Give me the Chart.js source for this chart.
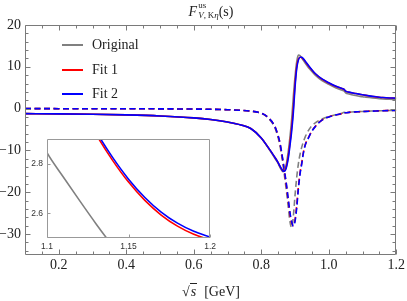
<!DOCTYPE html>
<html>
<head>
<meta charset="utf-8">
<script src="https://cdn.jsdelivr.net/npm/chart.js@4.4.1/dist/chart.umd.min.js"></script>
<style>
  html, body { margin: 0; padding: 0; background: #fff; }
  #wrap { position: relative; width: 407px; height: 301px; font-family: 'Liberation Serif', 'Times New Roman', serif; color: #222; }
  #main { position: absolute; left: 0; top: 0; }
  #inset { position: absolute; left: 20px; top: 130px; }
  #title { position: absolute; left: 25px; width: 372px; top: 0px; text-align: center; font-size: 14px; white-space: nowrap; }
  #title .F { font-style: italic; }
  #title .ss { display: inline-block; vertical-align: -2px; font-size: 9px; line-height: 10px; text-align: left; margin-left: 1px; }
  #title .ss span { display: block; }
  #xlabel { position: absolute; left: 25px; width: 372px; top: 284px; text-align: center; font-size: 14px; white-space: nowrap; }
  #xlabel .ol { border-top: 1px solid #222; font-style: italic; padding: 0 1px; }
  #legend { position: absolute; left: 62px; top: 33px; font-size: 14px; }
  .item { height: 24.5px; display: flex; align-items: center; }
  .swatch { width: 21px; height: 2px; margin-right: 9px; }
</style>
</head>
<body>
<div id="wrap">
  <canvas id="main" width="407" height="301"></canvas>
  <canvas id="inset" width="200" height="125"></canvas>
  <div id="title"><span class="F">F</span><span class="ss"><span>us</span><span><i>V</i>,&#8201;K<i>η</i></span></span>(s)</div>
  <div id="xlabel"><span>√<span class="ol">s</span></span>&nbsp;&nbsp;[GeV]</div>
  <div id="legend"></div>
</div>
<script>
// sqrt(s) in GeV
const xs = [0.1, 0.2, 0.3, 0.4, 0.5, 0.6, 0.65, 0.7, 0.74, 0.77,
  0.8, 0.82, 0.84, 0.85, 0.855, 0.86, 0.865, 0.87, 0.875, 0.88,
  0.885, 0.89, 0.895, 0.9, 0.905, 0.91, 0.915, 0.92, 0.925, 0.93,
  0.94, 0.95, 0.96, 0.98, 1.0, 1.02, 1.04, 1.045, 1.05, 1.06,
  1.08, 1.09, 1.1, 1.11, 1.12, 1.13, 1.14, 1.15, 1.16, 1.17,
  1.18, 1.19, 1.2];

// real parts (solid)
const reOrig = [-1.2, -1.25, -1.35, -1.5, -1.75, -2.2, -2.6, -3.2, -3.9, -4.8,
  -7.0, -9.3, -11.8, -13.1, -14.0, -14.7, -15.1, -14.6, -12.9, -10.3,
  -6.8, -2.6, 2.8, 7.6, 11.2, 12.8, 12.7, 12.1, 11.5, 10.9,
  9.8, 8.9, 8.0, 6.7, 5.8, 5.0, 4.4, 4.25, 3.8, 3.5,
  3.12, 2.98, 2.845, 2.747, 2.651, 2.558, 2.47, 2.39, 2.322, 2.268,
  2.228, 2.2, 2.185];
const reFit1 = [-1.2, -1.25, -1.35, -1.5, -1.75, -2.2, -2.6, -3.2, -3.9, -4.8,
  -7.0, -9.2, -11.6, -12.9, -13.7, -14.4, -14.95, -14.8, -13.6, -11.4,
  -8.2, -4.6, 0.0, 5.8, 10.0, 11.8, 12.3, 12.2, 11.8, 11.3,
  10.2, 9.25, 8.35, 7.05, 6.15, 5.36, 4.77, 4.62, 4.17, 3.92,
  3.6, 3.455, 3.314, 3.169, 3.037, 2.92, 2.816, 2.726, 2.652, 2.593,
  2.548, 2.515, 2.491];
const reFit2 = [-1.2, -1.25, -1.35, -1.5, -1.75, -2.2, -2.6, -3.2, -3.9, -4.8,
  -7.0, -9.2, -11.6, -12.9, -13.7, -14.4, -14.95, -14.9, -13.9, -11.9,
  -8.9, -5.5, -1.0, 5.0, 9.5, 11.6, 12.3, 12.3, 11.9, 11.4,
  10.3, 9.3, 8.4, 7.1, 6.2, 5.4, 4.8, 4.65, 4.2, 3.95,
  3.62, 3.47, 3.328, 3.182, 3.05, 2.932, 2.828, 2.738, 2.664, 2.605,
  2.56, 2.527, 2.503];

// imaginary parts (dashed)
const imOrig = [0, -0.01, -0.02, -0.03, -0.05, -0.1, -0.15, -0.25, -0.4, -0.6,
  -1.1, -2.2, -4.5, -7.0, -8.7, -11.0, -13.8, -16.8, -20.0, -23.5,
  -27.0, -28.4, -25.8, -20.8, -16.5, -13.2, -10.9, -9.2, -7.9, -6.8,
  -5.2, -4.1, -3.4, -2.5, -1.9, -1.45, -1.08, -0.88, -0.93, -0.84,
  -0.74, -0.71, -0.68, -0.64, -0.6, -0.57, -0.54, -0.51, -0.49, -0.46,
  -0.44, -0.42, -0.4];
const imFit1 = [0, -0.01, -0.02, -0.03, -0.05, -0.1, -0.15, -0.25, -0.4, -0.6,
  -1.1, -2.1, -4.2, -6.5, -8.1, -10.4, -13.0, -15.8, -18.7, -22.0,
  -25.2, -27.3, -28.0, -26.6, -23.2, -18.7, -15.3, -12.9, -10.4, -8.7,
  -6.9, -5.35, -4.25, -2.72, -1.98, -1.53, -1.14, -0.94, -0.99, -0.89,
  -0.77, -0.73, -0.69, -0.65, -0.61, -0.58, -0.55, -0.52, -0.5, -0.47,
  -0.45, -0.42, -0.4];
const imFit2 = [0, -0.01, -0.02, -0.03, -0.05, -0.1, -0.15, -0.25, -0.4, -0.6,
  -1.1, -2.1, -4.2, -6.5, -8.0, -10.3, -12.8, -15.5, -18.3, -21.6,
  -24.8, -27.0, -28.1, -27.0, -23.8, -19.2, -15.6, -13.2, -10.6, -8.8,
  -7.0, -5.4, -4.3, -2.75, -2.0, -1.55, -1.15, -0.95, -1.0, -0.9,
  -0.78, -0.74, -0.7, -0.66, -0.62, -0.59, -0.56, -0.53, -0.5, -0.48,
  -0.45, -0.43, -0.4];

const seriesNames = ['Original', 'Fit 1', 'Fit 2'];
const seriesColors = ['#808080', '#ff0000', '#0000ff'];

const xTicks = [0.2, 0.4, 0.6, 0.8, 1.0, 1.2];
const yTicks = [-30, -20, -10, 0, 10, 20];
const insetXTicks = [1.1, 1.15, 1.2];
const insetYTicks = [2.6, 2.8];

const serif = "'Liberation Serif', 'Times New Roman', serif";
const sans = "'Liberation Sans', Arial, sans-serif";

const pts = arr => xs.map((x, i) => ({ x: x, y: arr[i] }));

function lineSet(label, color, arr, dashed) {
  return {
    label: label,
    data: pts(arr),
    borderColor: color,
    borderWidth: 1.6,
    borderDash: dashed ? [6, 3.5] : [],
    pointRadius: 0,
    fill: false,
    cubicInterpolationMode: 'monotone'
  };
}

// minor tick positions
const xMinor = [];
for (let i = 3; i < 24; i++) xMinor.push(i * 0.05);
const yMinor = [];
for (let v = -34; v < 20; v += 2) if (v % 10 !== 0) yMinor.push(v);

// Mathematica style frame with inward ticks
const frameTicks = {
  id: 'frameTicks',
  afterDatasetsDraw(chart, args, o) {
    const { ctx, chartArea: a } = chart;
    const sx = chart.scales.x, sy = chart.scales.y;
    const L = Math.round(a.left) + 0.5, R = Math.round(a.right) - 0.5;
    const T = Math.round(a.top) + 0.5, B = Math.round(a.bottom) - 0.5;
    ctx.save();
    ctx.strokeStyle = o.color;
    ctx.lineWidth = 1;
    ctx.beginPath();
    ctx.rect(L, T, R - L, B - T);
    const mark = (vals, len, isX) => {
      vals.forEach(v => {
        if (isX) {
          const p = Math.round(sx.getPixelForValue(v)) + 0.5;
          ctx.moveTo(p, B); ctx.lineTo(p, B - len);
          if (o.allSides) { ctx.moveTo(p, T); ctx.lineTo(p, T + len); }
        } else {
          const p = Math.round(sy.getPixelForValue(v)) + 0.5;
          ctx.moveTo(L, p); ctx.lineTo(L + len, p);
          if (o.allSides) { ctx.moveTo(R, p); ctx.lineTo(R - len, p); }
        }
      });
    };
    mark(o.xMajor, o.major, true);
    mark(o.xMinor, o.minor, true);
    mark(o.yMajor, o.major, false);
    mark(o.yMinor, o.minor, false);
    ctx.stroke();
    ctx.restore();
  }
};

const minus = v => (v < 0 ? '\u2212' + Math.abs(v) : String(v));

new Chart(document.getElementById('main'), {
  type: 'line',
  data: {
    datasets: [
      lineSet('Fit 2', seriesColors[2], reFit2, false),
      lineSet('Fit 1', seriesColors[1], reFit1, false),
      lineSet('Original', seriesColors[0], reOrig, false),
      lineSet('Fit 2 Im', seriesColors[2], imFit2, true),
      lineSet('Fit 1 Im', seriesColors[1], imFit1, true),
      lineSet('Original Im', seriesColors[0], imOrig, true)
    ]
  },
  options: {
    responsive: false,
    animation: false,
    events: [],
    layout: { padding: { left: 0, right: 10, top: 25, bottom: 26 } },
    scales: {
      x: {
        type: 'linear', min: 0.1, max: 1.2,
        afterBuildTicks: s => { s.ticks = xTicks.map(v => ({ value: v })); },
        afterFit: s => { s.height = 20; },
        grid: { display: false, drawTicks: false },
        border: { display: false },
        ticks: { padding: 2, color: '#222', font: { family: serif, size: 14 }, maxRotation: 0, autoSkip: false,
                 callback: v => v.toFixed(1) }
      },
      y: {
        type: 'linear', min: -35, max: 20,
        afterBuildTicks: s => { s.ticks = yTicks.map(v => ({ value: v })); },
        afterFit: s => { s.width = 25; },
        grid: { display: false, drawTicks: false },
        border: { display: false },
        ticks: { padding: 4, color: '#222', font: { family: serif, size: 14 }, autoSkip: false,
                 callback: v => minus(v) }
      }
    },
    plugins: {
      legend: { display: false },
      tooltip: { enabled: false },
      frameTicks: { color: '#7a7a7a', allSides: true, major: 5, minor: 3,
                    xMajor: xTicks, xMinor: xMinor, yMajor: yTicks, yMinor: yMinor }
    }
  },
  plugins: [frameTicks]
});

// zoomed inset, real parts only
new Chart(document.getElementById('inset'), {
  type: 'line',
  data: {
    datasets: [
      lineSet('Fit 2', seriesColors[2], reFit2, false),
      lineSet('Fit 1', seriesColors[1], reFit1, false),
      lineSet('Original', seriesColors[0], reOrig, false)
    ]
  },
  options: {
    responsive: false,
    animation: false,
    events: [],
    layout: { padding: { left: 0, right: 7, top: 5, bottom: 5 } },
    scales: {
      x: {
        type: 'linear', min: 1.1, max: 1.2,
        afterBuildTicks: s => { s.ticks = insetXTicks.map(v => ({ value: v })); },
        afterFit: s => { s.height = 12; },
        grid: { display: false, drawTicks: false },
        border: { display: false },
        ticks: { padding: 4, color: '#333', font: { family: sans, size: 8.5 }, maxRotation: 0, autoSkip: false,
                 callback: v => String(Math.round(v * 100) / 100) }
      },
      y: {
        type: 'linear', min: 2.5, max: 2.9,
        afterBuildTicks: s => { s.ticks = insetYTicks.map(v => ({ value: v })); },
        afterFit: s => { s.width = 27; },
        grid: { display: false, drawTicks: false },
        border: { display: false },
        ticks: { padding: 4, color: '#333', font: { family: sans, size: 8.5 }, autoSkip: false,
                 callback: v => v.toFixed(1) }
      }
    },
    plugins: {
      legend: { display: false },
      tooltip: { enabled: false },
      frameTicks: { color: '#999', allSides: false, major: 3, minor: 0,
                    xMajor: insetXTicks, xMinor: [], yMajor: insetYTicks, yMinor: [] }
    }
  },
  plugins: [frameTicks]
});

// legend
const legend = document.getElementById('legend');
seriesNames.forEach((name, i) => {
  const item = document.createElement('div');
  item.className = 'item';
  const sw = document.createElement('span');
  sw.className = 'swatch';
  sw.style.background = seriesColors[i];
  const txt = document.createElement('span');
  txt.textContent = name;
  item.appendChild(sw);
  item.appendChild(txt);
  legend.appendChild(item);
});
</script>
</body>
</html>
